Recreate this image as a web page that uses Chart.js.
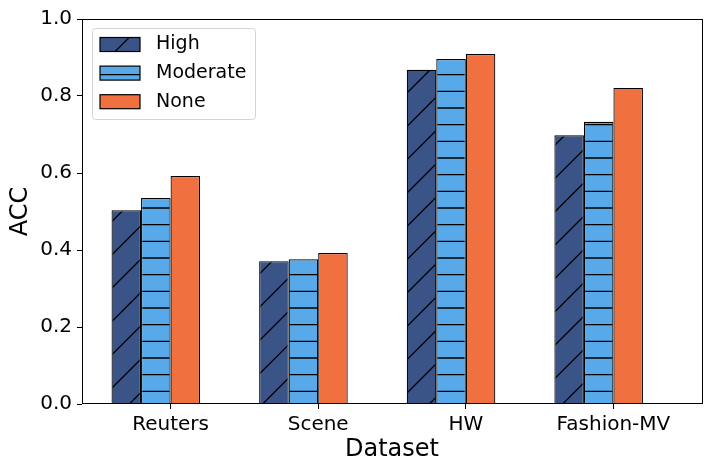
<!DOCTYPE html>
<html>
<head>
<meta charset="utf-8">
<script src="https://cdn.jsdelivr.net/npm/chart.js@4.4.1/dist/chart.umd.min.js"></script>
<style>
  body { margin: 0; background: #fff; }
  #contenedor { width: 712px; height: 472px; }
</style>
</head>
<body>
<div id="contenedor"><canvas id="grafica"></canvas></div>
<script>
// datos
const categories = ["Reuters", "Scene", "HW", "Fashion-MV"];
const highAcc = [0.503, 0.371, 0.868, 0.698];
const moderateAcc = [0.535, 0.376, 0.896, 0.733];
const noneAcc = [0.592, 0.392, 0.909, 0.821];
const yTicks = [0.0, 0.2, 0.4, 0.6, 0.8, 1.0];

//funcion para crear el rayado de las barras (como el hatch de matplotlib)
function crearPatron(ctx, color, tipo) {
    const c = document.createElement("canvas");
    c.width = 100;
    c.height = 100;
    const g = c.getContext("2d");
    g.fillStyle = color;
    g.fillRect(0, 0, 100, 100);
    g.strokeStyle = "#000";
    g.lineWidth = 1.3;
    g.beginPath();
    if (tipo === "/") {
        for (let k = -1; k <= 7; k++) {
            const s = k * 100 / 3;
            g.moveTo(s, 0);
            g.lineTo(s - 100, 100);
        }
    } else if (tipo === "-") {
        for (let k = 0; k < 6; k++) {
            const y = 8 + k * 100 / 6;
            g.moveTo(0, y);
            g.lineTo(100, y);
        }
    }
    g.stroke();
    return ctx.createPattern(c, "repeat");
}

function puntos(valores) {
    return categories.map((_, i) => ({ x: i, y: valores[i] }));
}

// leyenda dentro del area y marco completo de los ejes
const leyendaInterna = {
    id: "leyendaInterna",
    afterDraw(chart) {
        const ctx = chart.ctx;
        const area = chart.chartArea;
        ctx.save();

        const l = Math.round(area.left) + 0.5;
        const t = Math.round(area.top) + 0.5;
        const r = Math.round(area.right) + 0.5;
        const b = Math.round(area.bottom) - 0.5;
        ctx.strokeStyle = "#000";
        ctx.lineWidth = 1;
        ctx.strokeRect(l, t, r - l, b - t);

        const x0 = area.left + 10;
        const y0 = area.top + 9;
        ctx.beginPath();
        ctx.roundRect(x0 + 0.5, y0 + 0.5, 163, 91, 3);
        ctx.fillStyle = "rgba(255,255,255,0.8)";
        ctx.fill();
        ctx.strokeStyle = "#d4d4d4";
        ctx.stroke();

        const items = chart.data.datasets.filter(d => d.label);
        items.forEach((d, i) => {
            const cy = y0 + 16.5 + i * 28.6;
            ctx.fillStyle = d.backgroundColor;
            ctx.fillRect(x0 + 8, cy - 7, 40, 14);
            ctx.strokeStyle = "#000";
            ctx.lineWidth = 1.2;
            ctx.strokeRect(x0 + 8, cy - 7, 40, 14);
            ctx.fillStyle = "#000";
            ctx.font = "19px 'DejaVu Sans'";
            ctx.textBaseline = "middle";
            ctx.textAlign = "left";
            ctx.fillText(d.label, x0 + 64, cy);
        });
        ctx.restore();
    }
};

function crearGrafica() {
    const canvas = document.getElementById("grafica");
    const ctx = canvas.getContext("2d");

    Chart.defaults.font.family = "'DejaVu Sans'";
    Chart.defaults.color = "#000";

    new Chart(ctx, {
        type: "bar",
        data: {
            datasets: [{
                label: "High",
                data: puntos(highAcc),
                backgroundColor: crearPatron(ctx, "#3b5488", "/"),
                borderColor: "#000",
                borderWidth: 1.2
            }, {
                label: "Moderate",
                data: puntos(moderateAcc),
                backgroundColor: crearPatron(ctx, "#58a9e9", "-"),
                borderColor: "#000",
                borderWidth: 1.2
            }, {
                label: "None",
                data: puntos(noneAcc),
                backgroundColor: "#f07040",
                borderColor: "#000",
                borderWidth: 1.2
            }, {
                // hueco vacio para que la etiqueta quede entre Moderate y None
                label: "",
                data: categories.map((_, i) => ({ x: i, y: null })),
                backgroundColor: "rgba(0,0,0,0)",
                borderWidth: 0
            }]
        },
        options: {
            responsive: true,
            maintainAspectRatio: false,
            animation: false,
            categoryPercentage: 0.8,
            barPercentage: 1.0,
            layout: { padding: { top: 19, right: 10, left: 0, bottom: 0 } },
            plugins: {
                legend: { display: false },
                tooltip: { enabled: false }
            },
            scales: {
                x: {
                    type: "linear",
                    offset: false,
                    min: -0.6,
                    max: 3.6,
                    afterBuildTicks: s => { s.ticks = categories.map((_, i) => ({ value: i })); },
                    afterFit: s => { s.height = 68; },
                    ticks: {
                        callback: v => categories[v],
                        font: { size: 20 },
                        color: "#000",
                        padding: 4,
                        maxRotation: 0,
                        autoSkip: false
                    },
                    grid: {
                        offset: false,
                        drawOnChartArea: false,
                        drawTicks: true,
                        tickLength: 5,
                        color: "#000",
                        lineWidth: 1
                    },
                    border: { display: false },
                    title: {
                        display: true,
                        text: "Dataset",
                        font: { size: 24 },
                        color: "#000",
                        padding: { top: 0, bottom: 8 }
                    }
                },
                y: {
                    min: 0,
                    max: 1,
                    afterBuildTicks: s => { s.ticks = yTicks.map(v => ({ value: v })); },
                    afterFit: s => { s.width = 82; },
                    ticks: {
                        callback: v => v.toFixed(1),
                        font: { size: 20 },
                        color: "#000",
                        padding: 5
                    },
                    grid: {
                        drawOnChartArea: false,
                        drawTicks: true,
                        tickLength: 5,
                        color: "#000",
                        lineWidth: 1
                    },
                    border: { display: false },
                    title: {
                        display: true,
                        text: "ACC",
                        font: { size: 24 },
                        color: "#000",
                        padding: { top: 6, bottom: 0 }
                    }
                }
            }
        },
        plugins: [leyendaInterna]
    });
}

document.addEventListener("DOMContentLoaded", function() {
    crearGrafica();
});
</script>
</body>
</html>
